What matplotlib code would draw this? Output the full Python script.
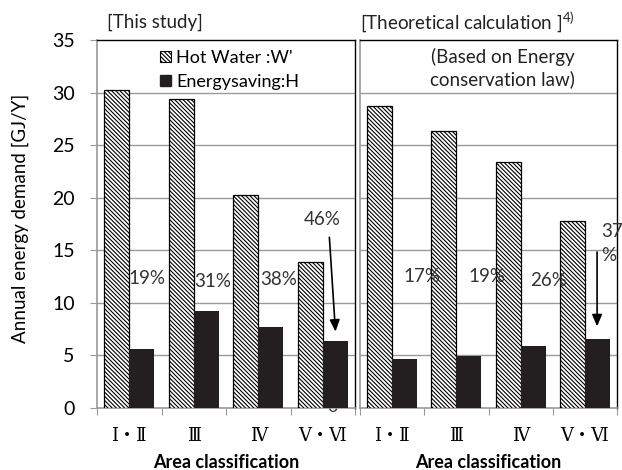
import numpy as np
import matplotlib
matplotlib.use("Agg")
import matplotlib.pyplot as plt
from matplotlib.patches import Patch

plt.rcParams['font.family'] = ['Lato', 'DejaVu Sans']
plt.rcParams['mathtext.fontset'] = 'custom'
plt.rcParams['mathtext.rm'] = 'Lato'
plt.rcParams['hatch.linewidth'] = 0.8

# data
areas = ["Ⅰ・Ⅱ", "Ⅲ", "Ⅳ", "Ⅴ・Ⅵ"]
study_hot = [30.2, 29.4, 20.3, 13.9]
study_save = [5.6, 9.2, 7.7, 6.35]
theory_hot = [28.7, 26.3, 23.4, 17.8]
theory_save = [4.7, 4.9, 5.9, 6.55]
study_pct = ["19%", "31%", "38%", "46%"]
theory_pct = ["17%", "19%", "26%", "37"]

GRAY = "#9a9a9a"
DARK = "#231f20"
TXT = "#333333"
W = 0.39
HATCH = "\\" * 8

fig = plt.figure(figsize=(6.22, 4.70), dpi=100)
axL = fig.add_axes([97/622, 1-408/470, 258/622, 368/470])
axR = fig.add_axes([360/622, 1-408/470, 257/622, 368/470])

x = np.arange(len(areas))


def draw_panel(ax, hot, save):
    ax.bar(x - W/2, hot, W, facecolor="white", edgecolor="black",
           hatch=HATCH, linewidth=0.9, zorder=3)
    ax.bar(x + W/2, save, W, color=DARK, linewidth=0, zorder=3)
    ax.set_xlim(-0.5, 3.5)
    ax.set_ylim(0, 35)
    ax.set_yticks(range(0, 36, 5))
    for yv in range(5, 35, 5):
        ax.axhline(yv, color=GRAY, lw=1.0, zorder=1)
    ax.set_xticks(np.arange(-0.5, 4, 1.0))
    ax.set_xticklabels([])
    ax.tick_params(axis="x", which="major", length=5, color=GRAY, direction="out")
    ax.set_xticks(x, minor=True)
    ax.set_xticklabels(areas, minor=True, fontsize=13,
                       family=["DejaVu Serif", "Noto Sans CJK JP"])
    ax.tick_params(axis="x", which="minor", length=0, pad=14)
    for s in ["top", "right"]:
        ax.spines[s].set_color("black")
        ax.spines[s].set_linewidth(1.0)
    for s in ["left", "bottom"]:
        ax.spines[s].set_color(GRAY)
        ax.spines[s].set_linewidth(1.2)
    ax.set_xlabel("Area classification", fontsize=13, fontweight="bold", labelpad=6)


draw_panel(axL, study_hot, study_save)
draw_panel(axR, theory_hot, theory_save)

axL.tick_params(axis="y", length=5, color=GRAY, pad=11, labelsize=14)
axR.tick_params(axis="y", length=0, labelleft=False)
axL.set_ylabel("Annual energy demand [GJ/Y]", fontsize=13.5)
axL.yaxis.set_label_coords(-0.265, 0.515)

# stray zero mostly hidden behind a bar
axL.text(3.16, 0.05, "0", fontsize=13, ha="center", va="center",
         zorder=2, clip_on=False, color=TXT)

# percentage labels
for i, t in enumerate(study_pct[:3]):
    axL.text([0.28, 1.30, 2.31][i], [12.3, 12.0, 12.2][i], t, fontsize=13.5,
             ha="center", va="center", color=TXT, zorder=4)
axL.text(2.99, 17.9, study_pct[3], fontsize=13.5, ha="center", va="center",
         color=TXT, zorder=4)
axL.annotate("", xy=(3.2, 7.0), xytext=(3.1, 16.5),
             arrowprops=dict(arrowstyle="-|>,head_width=0.3,head_length=0.7",
                             color="black", lw=1.2), zorder=5)

for i, t in enumerate(theory_pct[:3]):
    axR.text([0.47, 1.48, 2.43][i], [12.5, 12.5, 12.1][i], t, fontsize=13.5,
             ha="center", va="center", color=TXT, zorder=4)
axR.text(3.26, 16.8, theory_pct[3], fontsize=13.5, ha="left", va="center",
         color=TXT, zorder=4, clip_on=False)
axR.text(3.26, 14.5, "%", fontsize=13.5, ha="left", va="center",
         color=TXT, zorder=4, clip_on=False)
axR.annotate("", xy=(3.19, 7.5), xytext=(3.19, 15.1),
             arrowprops=dict(arrowstyle="-|>,head_width=0.3,head_length=0.7",
                             color="black", lw=1.2), zorder=5)

# legend
handles = [Patch(facecolor="white", edgecolor="black", hatch=HATCH, lw=0.8),
           Patch(facecolor=DARK, edgecolor=DARK)]
axL.legend(handles, ["Hot Water :W'", "Energysaving:H"], loc="upper left",
           bbox_to_anchor=(0.205, 1.0), frameon=False, fontsize=13,
           handlelength=0.6, handleheight=0.6, handletextpad=0.3,
           labelspacing=0.45, borderaxespad=0.15)

axR.text(0.556, 0.924, "(Based on Energy\nconservation law)", transform=axR.transAxes,
         fontsize=13.5, ha="center", va="center", linespacing=1.25, color="#222222")

fig.text(107/622, 1-22/470, "[This study]", fontsize=13.5, ha="left", va="center",
         color="#222222")
fig.text(360/622, 1-22/470, "[Theoretical calculation ]$^{4)}$", fontsize=13.5,
         ha="left", va="center", color="#222222")

fig.savefig("out.png", dpi=100)
